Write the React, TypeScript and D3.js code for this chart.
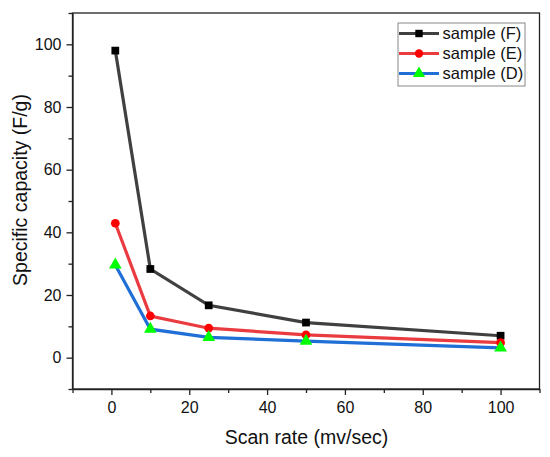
import React, { useEffect, useRef } from "react";
import * as d3 from "d3";

// scan rates (mv/sec)
const scanRates = [1, 10, 25, 50, 100];

// specific capacity (F/g) per sample
const sampleF = [98, 28.3, 16.7, 11.2, 7];
const sampleE = [42.9, 13.3, 9.4, 7.3, 4.8];
const sampleD = [29.6, 9.1, 6.5, 5.3, 3.1];

const seriesNames = ["sample (F)", "sample (E)", "sample (D)"];

const xMajorTicks = [0, 20, 40, 60, 80, 100];
const yMajorTicks = [0, 20, 40, 60, 80, 100];

interface Series {
  name: string;
  values: number[];
  line: string;
  marker: string;
  shape: d3.SymbolType;
}

const App: React.FC = () => {
  const svgRef = useRef<SVGSVGElement>(null);

  useEffect(() => {
    if (!svgRef.current) return;

    const width = 550;
    const height = 457;
    const margin = { top: 13, right: 10.5, bottom: 68, left: 72.5 };
    const font = "'Liberation Sans', Arial, sans-serif";

    const svg = d3.select(svgRef.current);
    svg.selectAll("*").remove();
    svg.attr("width", width).attr("height", height);

    const x = d3
      .scaleLinear()
      .domain([-10, 110])
      .range([margin.left, width - margin.right]);

    const y = d3
      .scaleLinear()
      .domain([-10, 110])
      .range([height - margin.bottom, margin.top]);

    const series: Series[] = [
      { name: seriesNames[0], values: sampleF, line: "#404040", marker: "#000000", shape: d3.symbolSquare },
      { name: seriesNames[1], values: sampleE, line: "#ea3b40", marker: "#ff0000", shape: d3.symbolCircle },
      { name: seriesNames[2], values: sampleD, line: "#1f6fd6", marker: "#00ff00", shape: d3.symbolTriangle },
    ];

    // frame
    svg
      .append("rect")
      .attr("x", margin.left)
      .attr("y", margin.top)
      .attr("width", width - margin.left - margin.right)
      .attr("height", height - margin.top - margin.bottom)
      .attr("fill", "none")
      .attr("stroke", "#222")
      .attr("stroke-width", 1.3);

    // x axis
    const xAxis = svg
      .append("g")
      .attr("transform", `translate(0,${height - margin.bottom})`);
    xAxis
      .call(
        d3.axisBottom(x).tickValues(xMajorTicks).tickSize(6).tickPadding(7).tickSizeOuter(0)
      )
      .call((g) => g.select(".domain").attr("stroke", "#222").attr("stroke-width", 1.3));
    xAxis
      .append("g")
      .call(d3.axisBottom(x).tickValues(d3.range(-10, 111, 20)).tickSize(4).tickFormat(() => "").tickSizeOuter(0))
      .call((g) => g.select(".domain").remove());

    // y axis
    const yAxis = svg.append("g").attr("transform", `translate(${margin.left},0)`);
    yAxis
      .call(
        d3.axisLeft(y).tickValues(yMajorTicks).tickSize(6).tickPadding(5).tickSizeOuter(0)
      )
      .call((g) => g.select(".domain").attr("stroke", "#222").attr("stroke-width", 1.3));
    yAxis
      .append("g")
      .call(d3.axisLeft(y).tickValues(d3.range(-10, 111, 20)).tickSize(4).tickFormat(() => "").tickSizeOuter(0))
      .call((g) => g.select(".domain").remove());

    svg
      .selectAll(".tick line")
      .attr("stroke", "#222")
      .attr("stroke-width", 1.3);
    svg
      .selectAll(".tick text")
      .attr("font-family", font)
      .attr("font-size", 16)
      .attr("fill", "#111");

    // axis titles
    svg
      .append("text")
      .attr("x", 306.5)
      .attr("y", 444)
      .attr("text-anchor", "middle")
      .attr("font-family", font)
      .attr("font-size", 19.5)
      .attr("fill", "#111")
      .text("Scan rate (mv/sec)");

    svg
      .append("text")
      .attr("transform", "translate(27,190) rotate(-90)")
      .attr("text-anchor", "middle")
      .attr("font-family", font)
      .attr("font-size", 19.5)
      .attr("fill", "#111")
      .text("Specific capacity (F/g)");

    const line = d3
      .line<number>()
      .x((d, i) => x(scanRates[i]))
      .y((d) => y(d));

    series.forEach((s) => {
      svg
        .append("path")
        .datum(s.values)
        .attr("fill", "none")
        .attr("stroke", s.line)
        .attr("stroke-width", 3.2)
        .attr("d", line);
    });

    series.forEach((s) => {
      const size = s.shape === d3.symbolTriangle ? 70 : 60;
      svg
        .append("g")
        .selectAll("path")
        .data(s.values)
        .enter()
        .append("path")
        .attr("transform", (d, i) => `translate(${x(scanRates[i])},${y(d)})`)
        .attr("d", d3.symbol().type(s.shape).size(size)())
        .attr("fill", s.marker);
    });

    // legend
    const legend = svg.append("g").attr("transform", "translate(398,23)");
    legend
      .append("rect")
      .attr("width", 127)
      .attr("height", 63)
      .attr("fill", "#fff")
      .attr("stroke", "#888")
      .attr("stroke-width", 1);

    series.forEach((s, i) => {
      const row = legend.append("g").attr("transform", `translate(0,${10.5 + i * 20})`);
      row
        .append("line")
        .attr("x1", 1)
        .attr("x2", 41)
        .attr("stroke", s.line)
        .attr("stroke-width", 3.2);
      row
        .append("path")
        .attr("transform", "translate(21,0)")
        .attr("d", d3.symbol().type(s.shape).size(s.shape === d3.symbolTriangle ? 65 : 55)())
        .attr("fill", s.marker);
      row
        .append("text")
        .attr("x", 44.5)
        .attr("dy", "0.35em")
        .attr("font-family", font)
        .attr("font-size", 16.5)
        .attr("fill", "#111")
        .text(s.name);
    });
  }, []);

  return (
    <svg
      ref={svgRef}
      style={{ position: "absolute", left: 0, top: 0, background: "#fff" }}
    ></svg>
  );
};

export default App;
